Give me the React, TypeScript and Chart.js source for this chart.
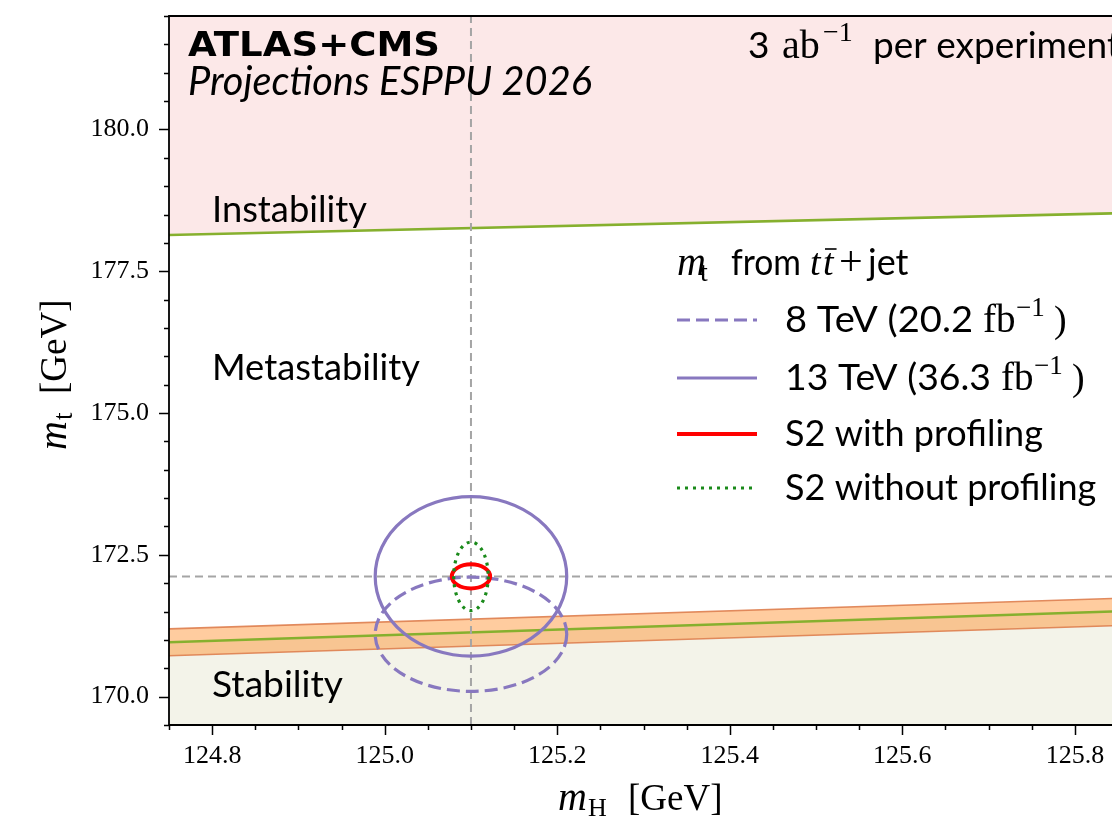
import React, { useEffect, useRef } from "react";
import { Chart, registerables } from "chart.js";

Chart.register(...registerables);

// ---------- data ----------
const X_MIN = 124.75;
const X_MAX = 125.843;
const Y_MIN = 169.5;
const Y_MAX = 182.0;
const xTickValues = [124.8, 125.0, 125.2, 125.4, 125.6, 125.8];
const yTickValues = [170.0, 172.5, 175.0, 177.5, 180.0];
const X_MINOR_STEP = 0.05;
const Y_MINOR_STEP = 0.5;

// phase boundaries, evaluated at the two mH end points
const boundaryMH = [124.75, 125.843];
const instabilityMt = [178.14, 178.52];
const stabilityMt = [170.96, 171.5];
const stabilityUpperMt = [171.195, 171.73];
const stabilityLowerMt = [170.72, 171.25];

// reference point (cross-hair)
const refMH = 125.1;
const refMt = 172.12;

// ellipses: [centre mH, centre mt, half-width mH, half-height mt]
const ellipse8TeV = [125.1, 171.1, 0.111, 1.007];
const ellipse13TeV = [125.1, 172.12, 0.111, 1.405];
const ellipseS2Prof = [125.1, 172.12, 0.0222, 0.212];
const ellipseS2NoProf = [125.1, 172.12, 0.02, 0.604];

// ---------- styles ----------
const SANS = "Lato";
const SERIF = '"Liberation Serif"';
const PURPLE = "#8878bf";
const RED = "#ff0000";
const DOTGREEN = "#1a8a1a";
const LINEGREEN = "#86b02e";
const PINK = "#fce8e8";
const BEIGE = "#f3f3e9";
const ORANGE_FILL = "rgba(255,127,14,0.4)";
const ORANGE_EDGE = "rgba(222,128,80,0.9)";
const GREY = "#a5a5a5";

type Run = { t: string; font: string; dy?: number; gap?: number; at?: number; w?: number };

function drawRuns(ctx: CanvasRenderingContext2D, x: number, y: number, runs: Run[]) {
  let cx = x;
  for (const r of runs) {
    if (r.at !== undefined) cx = r.at;
    ctx.font = r.font;
    const mw = ctx.measureText(r.t).width;
    if (r.w) {
      ctx.save();
      ctx.translate(cx, y + (r.dy || 0));
      ctx.scale(r.w / mw, 1);
      ctx.fillText(r.t, 0, 0);
      ctx.restore();
      cx += r.w + (r.gap || 0);
    } else {
      ctx.fillText(r.t, cx, y + (r.dy || 0));
      cx += mw + (r.gap || 0);
    }
  }
  return cx;
}

function fitText(
  ctx: CanvasRenderingContext2D,
  text: string,
  prefix: string,
  family: string,
  left: number,
  y: number,
  width: number
) {
  ctx.font = `${prefix} 100px ${family}`;
  const w = ctx.measureText(text).width;
  const size = (100 * width) / w;
  ctx.font = `${prefix} ${size}px ${family}`;
  ctx.fillText(text, left, y);
}

function strokeEllipse(
  ctx: CanvasRenderingContext2D,
  chart: any,
  e: number[],
  color: string,
  width: number,
  dash: number[]
) {
  const xs = chart.scales.x;
  const ys = chart.scales.y;
  const cx = xs.getPixelForValue(e[0]);
  const cy = ys.getPixelForValue(e[1]);
  const rx = Math.abs(xs.getPixelForValue(e[0] + e[2]) - cx);
  const ry = Math.abs(ys.getPixelForValue(e[1] + e[3]) - cy);
  ctx.save();
  ctx.strokeStyle = color;
  ctx.lineWidth = width;
  ctx.setLineDash(dash);
  ctx.beginPath();
  ctx.ellipse(cx, cy, rx, ry, 0, 0, Math.PI * 2);
  ctx.stroke();
  ctx.restore();
}

const pts = (ys: number[]) => boundaryMH.map((x, i) => ({ x, y: ys[i] }));

const overlayPlugin = {
  id: "overlay",
  afterDatasetsDraw(chart: any) {
    const ctx: CanvasRenderingContext2D = chart.ctx;
    strokeEllipse(ctx, chart, ellipse8TeV, PURPLE, 3.2, [13, 6]);
    strokeEllipse(ctx, chart, ellipse13TeV, PURPLE, 3.2, []);
    strokeEllipse(ctx, chart, ellipseS2Prof, RED, 4, []);
    strokeEllipse(ctx, chart, ellipseS2NoProf, DOTGREEN, 3.2, [3, 5]);
  },
  afterDraw(chart: any) {
    const ctx: CanvasRenderingContext2D = chart.ctx;
    const { left, right, top, bottom } = chart.chartArea;
    const xs = chart.scales.x;
    const ys = chart.scales.y;
    ctx.save();
    // spines
    ctx.strokeStyle = "#000";
    ctx.lineWidth = 1.8;
    ctx.setLineDash([]);
    ctx.beginPath();
    ctx.moveTo(left, bottom);
    ctx.lineTo(left, top);
    ctx.lineTo(right + 2, top);
    ctx.moveTo(left, bottom);
    ctx.lineTo(right + 2, bottom);
    ctx.stroke();
    // ticks
    ctx.lineWidth = 1.5;
    ctx.beginPath();
    for (let v = Y_MIN; v <= Y_MAX + 1e-9; v += Y_MINOR_STEP) {
      const major = yTickValues.some((t) => Math.abs(t - v) < 1e-6);
      const py = Math.round(ys.getPixelForValue(v)) + 0.5;
      ctx.moveTo(left, py);
      ctx.lineTo(left - (major ? 10 : 5), py);
    }
    for (let v = 124.75; v <= X_MAX + 1e-9; v += X_MINOR_STEP) {
      const major = xTickValues.some((t) => Math.abs(t - v) < 1e-6);
      const px = Math.round(xs.getPixelForValue(v)) + 0.5;
      ctx.moveTo(px, bottom);
      ctx.lineTo(px, bottom + (major ? 10 : 5));
    }
    ctx.stroke();

    // texts
    ctx.fillStyle = "#000";
    ctx.textBaseline = "alphabetic";
    ctx.textAlign = "left";
    drawRuns(ctx, 188, 56, [{ t: "ATLAS+CMS", font: `bold 33px "DejaVu Sans"`, w: 252 }]);
    fitText(ctx, "Projections ESPPU 2026", "italic", SANS, 188, 95, 404);
    drawRuns(ctx, 748, 58, [
      { t: "3", font: `37px ${SANS}` },
      { t: "ab", font: `40px ${SERIF}`, at: 782 },
      { t: "\u22121", font: `28px ${SERIF}`, dy: -17, at: 823 },
      { t: "per experiment", font: `37px ${SANS}`, at: 873 },
    ]);
    fitText(ctx, "Instability", "", SANS, 212, 222, 155);
    fitText(ctx, "Metastability", "", SANS, 212, 380, 208);
    fitText(ctx, "Stability", "", SANS, 212, 697, 131);

    // legend title
    drawRuns(ctx, 677, 275, [
      { t: "m", font: `italic 40px ${SERIF}` },
      { t: "t", font: `28px ${SERIF}`, dy: 6, at: 700 },
      { t: "from", font: `36px ${SANS}`, at: 731, w: 70 },
      { t: "t", font: `italic 38px ${SERIF}`, at: 810 },
    ]);
    ctx.font = `italic 38px ${SERIF}`;
    const tW = ctx.measureText("t").width;
    ctx.fillText("t", 823, 275);
    ctx.lineWidth = 1.6;
    ctx.beginPath();
    ctx.moveTo(825, 249);
    ctx.lineTo(825 + tW + 1, 249);
    ctx.stroke();
    drawRuns(ctx, 839, 275, [
      { t: "+", font: `42px ${SERIF}` },
      { t: "jet", font: `36px ${SANS}`, at: 868 },
    ]);

    // legend entries
    const rows: { y: number; color: string; w: number; dash: number[]; runs: Run[] }[] = [
      {
        y: 320,
        color: PURPLE,
        w: 3.2,
        dash: [13, 6],
        runs: [
          { t: "8 TeV (20.2", font: `36px ${SANS}`, w: 188 },
          { t: "fb", font: `39px ${SERIF}`, at: 983 },
          { t: "\u22121", font: `27px ${SERIF}`, dy: -16, at: 1016 },
          { t: ")", font: `38px ${SERIF}`, at: 1054 },
        ],
      },
      {
        y: 378,
        color: PURPLE,
        w: 3.2,
        dash: [],
        runs: [
          { t: "13 TeV (36.3", font: `36px ${SANS}`, w: 206 },
          { t: "fb", font: `39px ${SERIF}`, at: 1001 },
          { t: "\u22121", font: `27px ${SERIF}`, dy: -16, at: 1034 },
          { t: ")", font: `38px ${SERIF}`, at: 1072 },
        ],
      },
      { y: 434, color: RED, w: 4, dash: [], runs: [{ t: "S2 with profiling", font: `36px ${SANS}` }] },
      { y: 488, color: DOTGREEN, w: 3.2, dash: [3, 5], runs: [{ t: "S2 without profiling", font: `36px ${SANS}` }] },
    ];
    for (const r of rows) {
      ctx.strokeStyle = r.color;
      ctx.lineWidth = r.w;
      ctx.setLineDash(r.dash);
      ctx.beginPath();
      ctx.moveTo(677, r.y);
      ctx.lineTo(757, r.y);
      ctx.stroke();
      ctx.setLineDash([]);
      drawRuns(ctx, 785, r.y + 12, r.runs);
    }

    // axis titles
    drawRuns(ctx, 558, 810, [
      { t: "m", font: `italic 40px ${SERIF}`, gap: 1 },
      { t: "H", font: `26px ${SERIF}`, dy: 6 },
      { t: "[GeV]", font: `37px ${SERIF}`, at: 628 },
    ]);

    ctx.save();
    ctx.translate(66, 450);
    ctx.rotate(-Math.PI / 2);
    drawRuns(ctx, 0, 0, [
      { t: "m", font: `italic 40px ${SERIF}`, gap: 1 },
      { t: "t", font: `27px ${SERIF}`, dy: 6 },
      { t: "[GeV]", font: `37px ${SERIF}`, at: 56 },
    ]);
    ctx.restore();

    ctx.restore();
  },
};

export default function App() {
  const ref = useRef<HTMLCanvasElement | null>(null);

  useEffect(() => {
    if (!ref.current) return;
    const chart = new Chart(ref.current, {
      type: "line",
      data: {
        datasets: [
          {
            label: "stability region",
            data: pts(stabilityMt),
            borderWidth: 0,
            borderColor: "rgba(0,0,0,0)",
            backgroundColor: BEIGE,
            fill: "start",
            pointRadius: 0,
            order: 10,
          },
          {
            label: "band upper",
            data: pts(stabilityUpperMt),
            borderWidth: 1.6,
            borderColor: ORANGE_EDGE,
            backgroundColor: ORANGE_FILL,
            fill: "+1",
            pointRadius: 0,
            order: 9,
          },
          {
            label: "band lower",
            data: pts(stabilityLowerMt),
            borderWidth: 1.6,
            borderColor: ORANGE_EDGE,
            fill: false,
            pointRadius: 0,
            order: 8,
          },
          {
            label: "stability",
            data: pts(stabilityMt),
            borderWidth: 2.4,
            borderColor: LINEGREEN,
            fill: false,
            pointRadius: 0,
            order: 7,
          },
          {
            label: "instability",
            data: pts(instabilityMt),
            borderWidth: 2.6,
            borderColor: LINEGREEN,
            backgroundColor: PINK,
            fill: "end",
            pointRadius: 0,
            order: 6,
          },
          {
            label: "ref mH",
            data: [
              { x: refMH, y: Y_MIN },
              { x: refMH, y: Y_MAX },
            ],
            borderWidth: 2,
            borderColor: GREY,
            borderDash: [8, 5],
            fill: false,
            pointRadius: 0,
            order: 5,
          },
          {
            label: "ref mt",
            data: [
              { x: X_MIN, y: refMt },
              { x: X_MAX, y: refMt },
            ],
            borderWidth: 2,
            borderColor: GREY,
            borderDash: [8, 5],
            fill: false,
            pointRadius: 0,
            order: 4,
          },
        ],
      },
      options: {
        responsive: false,
        animation: false,
        events: [],
        layout: { padding: { top: 16, left: 0, right: 0, bottom: 0 } },
        plugins: {
          legend: { display: false },
          tooltip: { enabled: false },
          title: { display: false },
        },
        elements: { line: { tension: 0 } },
        scales: {
          x: {
            type: "linear",
            min: X_MIN,
            max: X_MAX,
            afterBuildTicks: (s: any) => {
              s.ticks = xTickValues.map((v) => ({ value: v }));
            },
            afterFit: (s: any) => {
              s.height = 96;
              s.paddingLeft = 0;
              s.paddingRight = 0;
            },
            grid: { display: false, drawTicks: false, tickLength: 0 },
            border: { display: false },
            ticks: {
              autoSkip: false,
              maxRotation: 0,
              padding: 16,
              color: "#000",
              font: { family: "Liberation Serif", size: 26 },
              callback: (v: any) => Number(v).toFixed(1),
            },
          },
          y: {
            type: "linear",
            min: Y_MIN,
            max: Y_MAX,
            afterBuildTicks: (s: any) => {
              s.ticks = yTickValues.map((v) => ({ value: v }));
            },
            afterFit: (s: any) => {
              s.width = 169;
              s.paddingTop = 0;
              s.paddingBottom = 0;
            },
            grid: { display: false, drawTicks: false, tickLength: 0 },
            border: { display: false },
            ticks: {
              autoSkip: false,
              padding: 20,
              color: "#000",
              font: { family: "Liberation Serif", size: 26 },
              callback: (v: any) => Number(v).toFixed(1),
            },
          },
        },
      },
      plugins: [overlayPlugin],
    } as any);
    return () => chart.destroy();
  }, []);

  return (
    <div style={{ position: "absolute", left: 0, top: 0, width: 1112, height: 821, background: "#fff" }}>
      <canvas ref={ref} width={1112} height={821} style={{ display: "block" }} />
    </div>
  );
}
